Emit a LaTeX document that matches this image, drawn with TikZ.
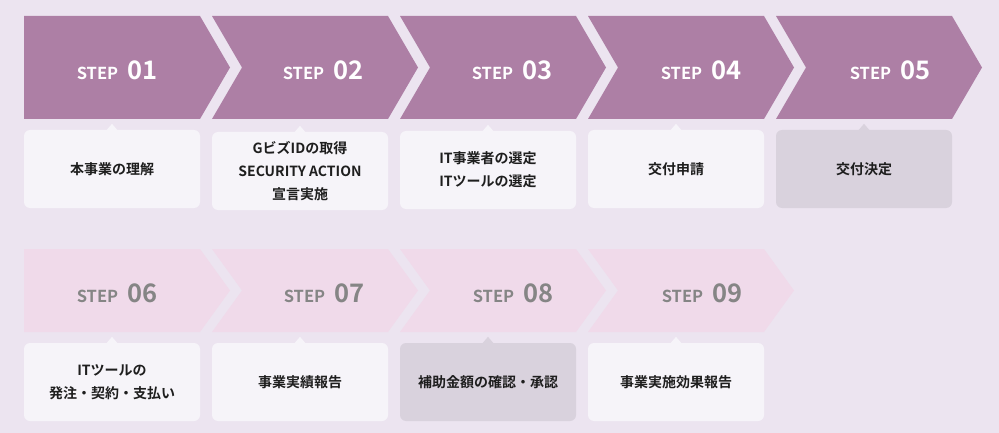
\documentclass[tikz,border=0pt]{standalone}
\usepackage{fontspec}
\setmainfont{Noto Sans CJK JP}[BoldFont={* Bold}]
\definecolor{bgc}{HTML}{ECE4F0}
\definecolor{topchev}{HTML}{AD7FA5}
\definecolor{botchev}{HTML}{F0DAEA}
\definecolor{boxwhite}{HTML}{F6F4F9}
\definecolor{boxgrey}{HTML}{D9D2DD}
\definecolor{stepgrey}{HTML}{858585}
\definecolor{boxtext}{HTML}{1E1E1E}
\newcommand\stepnum[1]{{\fontsize{16.5}{16}\selectfont STEP}\hspace{9pt}{\fontsize{25.5}{25}\selectfont #1}}
\tikzset{
  chevtop/.style={fill=topchev},
  chevbot/.style={fill=botchev},
  boxbase/.style={rounded corners=6pt, minimum width=176pt, minimum height=78pt, inner sep=0pt,
    align=center, text=boxtext, font=\bfseries\fontsize{14}{23}\selectfont},
  boxw/.style={boxbase, fill=boxwhite},
  boxg/.style={boxbase, fill=boxgrey},
  steptop/.style={text=white, anchor=base, inner sep=0pt, font=\bfseries},
  stepbot/.style={text=stepgrey, anchor=base, inner sep=0pt, font=\bfseries},
}
\begin{document}
\begin{tikzpicture}[x=1pt,y=-1pt]
\fill[bgc] (0,0) rectangle (999,433);
\useasboundingbox (0,0) rectangle (999,433);
% top row chevrons
\fill[chevtop] (24,16) -- (200,16) -- (230,67.5) -- (200,119) -- (24,119) -- cycle;
\foreach \i in {1,2,3,4}{
  \pgfmathsetmacro\L{24+188*\i}
  \fill[chevtop] (\L,16) -- (\L+176,16) -- (\L+206,67.5) -- (\L+176,119) -- (\L,119) -- (\L+30,67.5) -- cycle;
}
% bottom row chevrons
\fill[chevbot] (24,249) -- (200,249) -- (230,290.5) -- (200,332) -- (24,332) -- cycle;
\foreach \i in {1,2,3}{
  \pgfmathsetmacro\L{24+188*\i}
  \fill[chevbot] (\L,249) -- (\L+176,249) -- (\L+206,290.5) -- (\L+176,332) -- (\L,332) -- (\L+30,290.5) -- cycle;
}
% step labels
\node[steptop] (s1) at (117,80) {\stepnum{01}};
\node[steptop] (s2) at (323,80) {\stepnum{02}};
\node[steptop] (s3) at (512,80) {\stepnum{03}};
\node[steptop] (s4) at (701,80) {\stepnum{04}};
\node[steptop] (s5) at (890,80) {\stepnum{05}};
\node[stepbot] (s6) at (117,302) {\stepnum{06}};
\node[stepbot] (s7) at (324,302) {\stepnum{07}};
\node[stepbot] (s8) at (513,302) {\stepnum{08}};
\node[stepbot] (s9) at (702,302) {\stepnum{09}};
% boxes
\node[boxw] (b1) at (112,169) {本事業の理解};
\node[boxw] (b2) at (300,171) {GビズIDの取得\\SECURITY ACTION\\宣言実施};
\node[boxw] (b3) at (488,170) {IT事業者の選定\\ITツールの選定};
\node[boxw] (b4) at (676,169) {交付申請};
\node[boxg] (b5) at (864,169) {交付決定};
\node[boxw] (b6) at (112,382) {ITツールの\\発注・契約・支払い};
\node[boxw] (b7) at (300,382) {事業実績報告};
\node[boxg] (b8) at (488,382) {補助金額の確認・承認};
\node[boxw] (b9) at (676,382) {事業実施効果報告};
% pointers
\foreach \b/\c in {b1/boxwhite,b2/boxwhite,b3/boxwhite,b4/boxwhite,b5/boxgrey,b6/boxwhite,b7/boxwhite,b8/boxgrey,b9/boxwhite}{
  \fill[\c] ([yshift=-1pt]\b.north) ++(-6,0) -- ++(6,-7) -- ++(6,7) -- cycle;
}
\end{tikzpicture}
\end{document}
